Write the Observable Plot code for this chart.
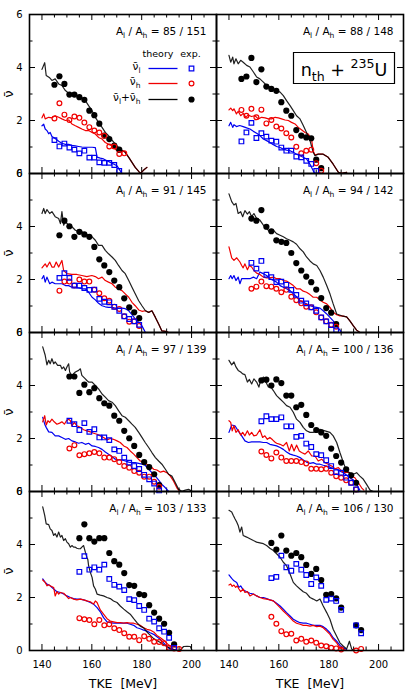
<!DOCTYPE html>
<html><head><meta charset="utf-8">
<script src="https://cdn.jsdelivr.net/npm/d3@7"></script>
<script src="https://cdn.jsdelivr.net/npm/@observablehq/plot@0.6"></script>
<style>
html,body{margin:0;padding:0;background:#fff;}
#chart{position:relative;width:415px;height:691px;overflow:hidden;}
#chart svg{position:absolute;}
</style></head><body><div id="chart"></div>
<script>
// ---------- tick values / labels ----------
const xMajor = [140,160,180,200];
const xMinor = [145,150,155,165,170,175,185,190,195,205];
const yMajor = [2,4];
const yMinor = [1,3,5];
const yLabels = [0,2,4,6];
const panelLabels = ["85 / 151","88 / 148","91 / 145","94 / 142","97 / 139","100 / 136","103 / 133","106 / 130"];
const legendHeader = ["theory","exp."];
const legendLabels = ["ν̄_{l}","ν̄_{h}","ν̄_{l}+ν̄_{h}"];
const reactionLabel = "n_{th} + ^{235}U";
const xTitle = "TKE  [MeV]";
const yTitle = "ν̄";

// ---------- panel 1 : 85/151 ----------
const p1_l = [[140.0,1.80],[140.7,1.86],[141.3,1.68],[142.0,1.62],[142.7,1.50],[143.3,1.55],[144.0,1.40],[145.3,1.32],[146.7,1.22],[148.0,1.14],[149.4,1.10],[150.7,1.10],[152.0,1.06],[153.4,1.04],[154.7,1.02],[156.0,1.00],[157.4,0.99],[158.7,0.99],[160.1,0.99],[161.4,0.98],[162.1,0.62],[163.4,0.58],[164.7,0.55],[166.1,0.48],[167.4,0.42],[168.7,0.36],[170.1,0.29],[171.4,0.10],[172.1,0.00]];
const p1_h = [[140.0,2.10],[140.7,2.25],[141.3,2.06],[142.7,2.12],[144.0,2.10],[145.3,2.18],[146.7,2.12],[148.0,2.06],[149.4,2.00],[150.7,2.02],[152.0,1.87],[153.4,1.80],[154.7,1.74],[156.0,1.68],[157.4,1.62],[158.7,1.62],[160.1,1.55],[161.4,1.49],[162.7,1.36],[164.1,1.30],[165.4,1.17],[166.7,1.10],[168.1,1.05],[169.4,0.92],[170.7,0.80],[172.1,0.86],[173.4,0.80],[174.8,0.61],[176.1,0.42],[177.4,0.23],[178.8,0.08],[179.4,0.00],[180.8,0.13],[182.1,0.23]];
const p1_t = [[140.0,3.93],[141.1,4.18],[141.7,3.70],[143.1,3.61],[144.0,3.51],[145.3,3.57],[146.7,3.38],[148.0,3.32],[149.4,3.13],[150.7,3.03],[152.0,2.94],[153.4,2.98],[154.7,2.88],[156.0,2.85],[157.4,2.75],[158.7,2.56],[160.1,2.37],[161.4,2.12],[162.7,1.93],[164.1,1.74],[165.4,1.55],[166.7,1.43],[168.1,1.26],[169.4,1.11],[170.7,0.98],[172.1,0.88],[173.4,0.80],[174.8,0.61],[176.1,0.42],[177.4,0.23],[178.8,0.08],[179.4,0.00],[180.8,0.13],[182.1,0.23]];
const p1_eL = [[145,1.26],[147,1.02],[149,1.13],[151,0.98],[153,0.90],[155,0.76],[157,0.86],[159,0.60],[161,0.60],[163,0.42],[165,0.40],[167,0.40],[169,0.32],[171,0.10]];
const p1_eH = [[145,2.08],[147,2.65],[149,2.22],[151,2.02],[153,2.15],[155,2.10],[157,1.92],[159,1.75],[161,1.62],[163,1.55],[165,1.42],[167,1.02],[169,1.02],[171,0.74],[173,0.76]];
const p1_eT = [[145,3.35],[147,3.67],[149,3.38],[151,2.98],[153,2.98],[155,2.88],[157,2.78],[159,2.37],[161,2.20],[163,1.88],[165,1.43],[167,1.30],[169,1.05],[171,0.90]];

// ---------- panel 2 : 88/148 ----------
const p2_l = [[140.0,1.80],[140.7,1.93],[141.5,1.74],[142.0,1.84],[143.0,1.77],[144.3,1.81],[145.7,1.77],[147.1,1.72],[148.4,1.68],[149.8,1.59],[151.1,1.52],[152.4,1.43],[153.8,1.30],[155.1,1.24],[156.4,1.17],[157.8,1.09],[159.1,1.02],[160.5,0.98],[161.8,0.92],[163.1,0.88],[164.5,0.86],[165.8,0.80],[167.1,0.73],[168.5,0.67],[169.8,0.61],[171.1,0.55],[172.5,0.35],[173.8,0.10],[174.5,0.00]];
const p2_h = [[140.0,2.40],[140.7,2.47],[141.5,2.37],[142.0,2.44],[143.0,2.25],[143.7,2.35],[144.7,2.18],[145.7,2.27],[146.8,2.12],[147.7,2.21],[149.0,2.15],[150.4,2.18],[151.8,2.06],[153.1,2.12],[154.5,2.10],[155.8,2.06],[157.1,2.06],[158.5,2.12],[159.8,2.10],[161.1,2.06],[162.5,2.02],[163.8,2.00],[165.1,1.93],[166.5,1.87],[167.8,1.74],[169.2,1.64],[170.5,1.55],[171.8,1.49],[173.1,1.30],[173.8,0.85],[174.5,0.70],[175.8,0.73],[177.8,0.73],[179.8,0.61],[181.8,0.35],[183.9,0.04],[185.2,0.01],[187.2,0.04]];
const p2_t = [[140.0,4.46],[140.7,4.20],[141.5,4.39],[142.0,4.14],[142.8,4.33],[143.7,4.14],[144.7,4.27],[145.7,4.20],[147.1,4.08],[148.4,4.02],[149.8,3.83],[151.1,3.64],[152.4,3.57],[153.8,3.45],[155.1,3.32],[156.4,3.26],[157.8,3.19],[159.1,3.13],[160.5,3.07],[161.8,2.94],[163.1,2.75],[164.5,2.56],[165.8,2.37],[167.1,2.18],[168.5,2.06],[169.8,1.81],[171.1,1.55],[172.5,1.24],[173.8,0.80],[174.5,0.67],[175.8,0.73],[177.8,0.73],[179.8,0.61],[181.8,0.35],[183.9,0.04],[185.2,0.01],[187.2,0.04]];
const p2_eL = [[145,1.21],[147,1.55],[149,1.91],[151,1.34],[153,1.52],[155,1.39],[157,1.24],[159,1.20],[161,0.98],[163,0.86],[165,0.86],[167,0.64],[169,0.61],[171,0.48],[173,0.36],[175,0.10]];
const p2_eH = [[145,2.40],[147,2.18],[149,2.44],[151,2.12],[153,2.41],[155,1.89],[157,2.02],[159,1.77],[161,1.70],[163,1.52],[165,1.36],[167,1.01],[169,0.76],[171,0.86],[173,0.90],[175,0.39],[177,0.10]];
const p2_eT = [[145,3.57],[147,3.66],[149,4.36],[151,3.45],[153,3.93],[155,3.28],[157,3.19],[159,3.12],[161,2.69],[163,2.37],[165,2.18],[167,1.64],[169,1.43],[171,1.36],[173,1.33],[175,0.52],[177,0.20]];

// ---------- panel 3 : 91/145 ----------
const p3_l = [[140.0,2.03],[140.7,2.15],[141.3,1.90],[142.0,2.09],[143.1,1.84],[144.0,1.90],[145.3,1.84],[146.7,1.84],[148.0,1.84],[149.4,1.77],[150.7,1.77],[152.0,1.71],[153.4,1.71],[154.7,1.68],[156.0,1.65],[157.4,1.65],[158.7,1.52],[160.1,1.33],[161.4,1.23],[162.7,1.10],[164.1,1.01],[165.4,0.97],[166.7,0.95],[168.1,0.95],[169.4,0.92],[170.7,0.92],[172.1,0.92],[173.4,0.90],[174.8,0.82],[176.1,0.67],[177.4,0.51],[178.8,0.38],[180.1,0.25],[181.5,0.00]];
const p3_h = [[140.0,2.44],[141.3,2.59],[142.0,2.47],[143.1,2.66],[144.0,2.47],[144.9,2.47],[145.7,2.66],[146.7,2.47],[148.0,2.72],[148.7,2.34],[150.0,2.22],[152.0,2.19],[154.0,2.19],[156.0,2.15],[158.0,2.11],[160.0,2.15],[161.4,2.11],[162.7,2.03],[164.1,2.09],[165.4,1.96],[166.7,1.90],[168.1,1.84],[169.4,1.71],[170.7,1.65],[172.1,1.58],[173.4,1.46],[174.8,1.33],[176.1,1.14],[177.4,1.01],[178.8,0.85],[180.1,0.80],[181.5,0.82],[182.8,0.76],[184.1,0.82],[185.5,0.57],[186.8,0.32],[188.1,0.06],[189.5,0.04],[190.8,0.00],[192.1,0.00]];
const p3_t = [[140.0,4.49],[140.7,4.68],[141.3,4.49],[142.0,4.64],[143.1,4.49],[144.0,4.56],[145.3,4.37],[146.7,4.30],[147.4,4.11],[148.0,4.56],[148.7,4.05],[149.4,4.18],[150.7,4.05],[152.0,3.99],[153.4,3.86],[154.7,3.80],[156.0,3.80],[157.4,3.73],[158.7,3.67],[160.1,3.61],[161.4,3.48],[162.7,3.29],[164.1,3.29],[165.4,3.10],[166.7,2.97],[168.1,2.85],[169.4,2.72],[170.7,2.53],[172.1,2.34],[173.4,2.22],[174.8,1.96],[176.1,1.71],[177.4,1.46],[178.8,1.20],[180.1,1.01],[181.5,0.82],[182.8,0.76],[184.1,0.82],[185.5,0.57],[186.8,0.32],[188.1,0.06],[189.5,0.04],[190.8,0.00],[192.1,0.00]];
const p3_eL = [[147,2.06],[149,2.24],[151,2.06],[153,1.77],[155,1.77],[157,1.68],[159,1.61],[161,1.62],[163,1.27],[165,1.16],[167,1.14],[169,0.97],[171,0.82],[173,0.61],[175,0.51],[177,0.42],[179,0.29]];
const p3_eH = [[147,1.58],[149,1.92],[151,1.92],[153,1.77],[155,2.00],[157,1.92],[159,1.92],[161,1.61],[163,1.48],[165,1.29],[167,1.20],[169,0.97],[171,0.89],[173,0.61],[175,0.41],[177,0.42],[179,0.25]];
const p3_eT = [[147,3.67],[149,4.22],[151,4.01],[153,3.61],[155,3.80],[157,3.70],[159,3.61],[161,3.23],[163,2.76],[165,2.53],[167,2.28],[169,1.96],[171,1.71],[173,1.29],[175,0.95],[177,0.76],[179,0.54]];

// ---------- panel 4 : 94/142 ----------
const p4_l = [[140.0,2.03],[140.7,2.15],[141.3,2.03],[142.0,2.15],[142.8,1.96],[143.7,2.09],[144.4,1.84],[145.1,2.03],[146.4,2.03],[148.4,2.03],[149.8,2.09],[151.1,2.03],[152.4,2.28],[153.8,2.22],[155.1,2.15],[156.4,2.03],[157.8,1.96],[159.1,1.90],[160.5,1.77],[161.8,1.71],[163.1,1.65],[164.5,1.58],[165.8,1.46],[167.1,1.35],[168.5,1.20],[169.8,1.14],[171.1,1.08],[172.5,1.01],[173.8,0.97],[175.2,0.95],[176.5,0.92],[177.8,0.82],[179.2,0.70],[180.5,0.57],[181.8,0.44],[183.2,0.25],[184.5,0.09],[185.2,0.00]];
const p4_h = [[140.0,3.23],[141.1,2.82],[142.0,2.72],[143.1,2.82],[144.4,2.66],[145.1,2.53],[145.7,2.44],[146.4,2.59],[147.4,2.37],[148.2,2.53],[149.1,2.47],[150.0,2.34],[151.1,2.24],[152.4,2.19],[153.8,2.09],[155.1,2.06],[156.4,2.06],[157.8,2.09],[159.1,2.03],[160.5,2.03],[161.8,1.96],[163.1,1.94],[164.5,1.86],[165.8,1.77],[167.1,1.65],[168.5,1.65],[169.8,1.56],[171.1,1.52],[172.5,1.43],[173.8,1.33],[175.2,1.33],[176.5,1.23],[177.8,1.14],[179.2,1.08],[180.5,0.95],[181.8,0.76],[183.2,0.67],[184.5,0.63],[185.2,0.63],[187.2,0.59],[188.5,0.44],[189.9,0.25],[191.2,0.09],[192.5,0.00]];
const p4_t = [[140.0,5.23],[141.1,4.94],[142.0,4.81],[142.8,4.87],[143.7,4.49],[144.7,4.56],[145.5,4.37],[146.4,4.60],[147.4,4.47],[148.2,4.56],[149.1,4.37],[150.0,4.49],[151.1,4.30],[152.4,4.24],[153.8,4.05],[155.1,3.92],[156.4,3.80],[157.8,3.86],[159.1,3.73],[160.5,3.67],[161.8,3.61],[163.1,3.54],[164.5,3.48],[165.8,3.42],[167.1,3.33],[168.5,3.16],[169.8,3.04],[171.1,2.85],[172.5,2.70],[173.8,2.59],[175.2,2.53],[176.5,2.34],[177.8,2.09],[179.2,1.77],[180.5,1.46],[181.8,1.08],[183.2,0.70],[185.2,0.63],[187.2,0.59],[188.5,0.44],[189.9,0.25],[191.2,0.09],[192.5,0.00]];
const p4_eL = [[149,2.63],[151,2.41],[153,2.70],[155,2.18],[157,2.09],[159,1.90],[161,1.92],[163,1.80],[165,1.61],[167,1.42],[169,1.20],[171,1.10],[173,0.95],[175,0.82],[177,0.57],[179,0.42],[181,0.28],[183,0.09]];
const p4_eH = [[149,1.65],[151,1.73],[153,1.92],[155,1.75],[157,1.73],[159,1.65],[161,1.52],[163,1.61],[165,1.35],[167,1.22],[169,1.10],[171,0.97],[173,0.95],[175,0.76],[177,0.57],[179,0.42],[181,0.29],[183,0.22]];
const p4_eT = [[149,4.30],[151,4.22],[153,4.62],[155,3.99],[157,3.82],[159,3.48],[161,3.42],[163,3.38],[165,3.00],[167,2.62],[169,2.34],[171,2.11],[173,1.90],[175,1.62],[177,1.30],[179,0.92],[181,0.75],[183,0.32]];

// ---------- panel 5 : 97/139 ----------
const p5_l = [[140.3,2.80],[141.1,2.54],[141.7,2.42],[142.7,2.25],[144.0,2.23],[145.3,2.10],[146.7,2.10],[148.0,2.04],[149.4,1.97],[150.7,2.00],[152.0,1.91],[153.4,1.87],[154.7,1.82],[156.0,1.85],[157.4,1.78],[158.7,1.82],[160.1,1.72],[161.4,1.70],[162.7,1.66],[164.1,1.59],[165.4,1.49],[166.7,1.41],[168.1,1.32],[169.4,1.22],[170.7,1.19],[172.1,1.19],[173.4,1.15],[174.8,1.11],[176.1,1.09],[177.4,1.09],[178.8,1.06],[180.1,1.03],[181.4,0.99],[182.8,0.84],[184.1,0.71],[185.5,0.58],[186.8,0.43],[188.1,0.27],[189.5,0.14],[190.8,0.00]];
const p5_h = [[140.3,2.63],[141.1,2.86],[141.7,2.51],[142.4,2.67],[143.1,2.61],[144.0,2.73],[144.9,2.63],[146.0,2.54],[147.1,2.58],[148.0,2.63],[149.0,2.54],[149.8,2.67],[150.7,2.73],[151.4,2.67],[152.0,2.48],[153.0,2.61],[154.0,2.48],[155.4,2.42],[156.7,2.33],[158.0,2.29],[159.4,2.25],[160.7,2.20],[162.1,2.16],[163.4,2.10],[164.7,2.04],[166.1,1.95],[167.4,2.00],[168.7,1.97],[170.1,1.91],[171.4,1.85],[172.8,1.72],[174.1,1.66],[175.4,1.53],[176.8,1.41],[178.1,1.28],[179.4,1.15],[180.8,1.11],[182.1,1.03],[183.4,0.96],[184.8,0.84],[186.1,0.81],[187.5,0.73],[188.8,0.77],[190.1,0.71],[191.5,0.58],[192.8,0.39],[194.1,0.14],[194.8,0.05]];
const p5_t = [[140.3,5.46],[141.3,5.14],[142.0,4.78],[142.7,4.95],[143.3,4.82],[144.0,5.01],[144.7,4.82],[145.3,4.89],[146.3,4.76],[147.4,4.76],[148.0,4.63],[148.7,4.70],[149.4,4.57],[150.0,4.70],[150.7,4.82],[151.1,4.51],[152.0,4.38],[153.4,4.51],[154.7,4.57],[155.4,4.63],[156.0,4.38],[157.4,4.25],[158.0,4.19],[158.7,4.13],[160.1,4.13],[161.4,4.00],[162.7,3.87],[164.1,3.68],[165.4,3.56],[166.7,3.43],[168.1,3.37],[169.4,3.24],[170.7,3.05],[172.1,2.86],[173.4,2.80],[174.8,2.67],[176.1,2.54],[177.4,2.42],[178.8,2.23],[180.1,2.04],[181.4,1.85],[182.8,1.66],[184.1,1.47],[185.5,1.28],[186.8,1.15],[188.1,1.03],[189.5,0.84],[190.8,0.65],[192.1,0.58],[193.5,0.33],[194.8,0.08],[196.1,0.01],[197.5,0.05],[198.8,0.08],[200.2,0.01]];
const p5_eL = [[151,2.67],[153,2.54],[155,2.32],[157,2.58],[159,2.25],[161,2.35],[163,2.04],[165,2.04],[167,1.94],[169,1.59],[171,1.53],[173,1.28],[175,1.09],[177,0.96],[179,0.85],[181,0.63],[183,0.46],[185,0.30],[187,0.04]];
const p5_eH = [[151,1.62],[153,1.75],[155,1.37],[157,1.41],[159,1.44],[161,1.49],[163,1.44],[165,1.28],[167,1.28],[169,1.22],[171,1.11],[173,0.96],[175,0.90],[177,0.77],[179,0.71],[181,0.56],[183,0.56],[185,0.37],[187,0.18]];
const p5_eT = [[151,4.34],[153,4.34],[155,3.72],[157,4.03],[159,3.75],[161,3.90],[163,3.52],[165,3.33],[167,3.24],[169,2.86],[171,2.67],[173,2.29],[175,2.01],[177,1.72],[179,1.38],[181,1.11],[183,0.92],[185,0.65],[187,0.24]];

// ---------- panel 6 : 100/136 ----------
const p6_l = [[140.0,2.23],[141.1,2.51],[142.4,2.48],[143.7,2.29],[145.1,2.10],[146.4,1.91],[147.8,1.85],[149.1,1.87],[151.1,1.87],[152.4,1.87],[153.8,1.85],[155.1,1.85],[156.4,1.78],[157.8,1.75],[159.1,1.72],[160.5,1.66],[161.8,1.59],[163.1,1.49],[164.5,1.41],[165.8,1.37],[167.1,1.34],[168.5,1.28],[169.8,1.19],[171.1,1.11],[172.5,1.06],[173.8,1.09],[175.2,1.03],[176.5,1.03],[177.8,0.99],[179.2,0.96],[180.5,0.92],[181.8,0.86],[183.2,0.84],[184.5,0.77],[185.9,0.71],[187.2,0.61],[188.5,0.52],[189.9,0.43],[191.2,0.27],[192.5,0.05]];
const p6_h = [[140.0,2.67],[140.7,2.61],[141.3,2.29],[142.0,2.48],[142.8,2.23],[143.7,2.33],[144.7,2.13],[145.5,2.23],[146.4,2.10],[147.4,2.29],[148.2,2.13],[149.1,2.23],[150.0,2.10],[151.1,2.13],[152.4,2.33],[153.5,2.04],[154.4,2.10],[155.4,1.97],[156.4,2.04],[157.5,1.95],[158.4,1.87],[159.1,1.82],[160.5,1.78],[161.8,1.72],[163.1,1.85],[164.2,1.53],[165.1,1.78],[166.1,1.53],[167.1,1.75],[168.2,1.53],[169.1,1.47],[170.5,1.41],[171.8,1.53],[173.2,1.34],[174.5,1.34],[175.8,1.15],[177.2,1.22],[178.5,1.09],[179.8,1.03],[181.2,0.96],[182.5,0.86],[183.9,0.90],[185.2,0.77],[186.5,0.71],[187.9,0.73],[189.2,0.58],[190.5,0.52],[191.9,0.33],[193.2,0.14],[194.1,0.05]];
const p6_t = [[140.0,4.95],[141.1,4.78],[142.0,4.89],[142.8,4.70],[143.7,4.57],[144.7,4.51],[145.5,4.44],[146.4,4.41],[147.4,4.13],[148.2,4.23],[149.1,4.06],[150.0,4.25],[151.1,4.13],[152.0,3.94],[152.7,4.19],[153.8,4.32],[154.8,4.13],[155.8,3.94],[156.4,4.00],[157.8,3.81],[159.1,3.62],[160.5,3.49],[161.8,3.37],[163.1,3.24],[164.5,3.18],[165.8,2.99],[167.1,2.73],[168.5,2.61],[169.8,2.42],[171.1,2.29],[172.5,2.23],[173.8,2.23],[175.2,2.29],[176.5,2.35],[178.5,2.29],[180.5,2.23],[181.8,2.10],[183.2,1.85],[184.5,1.47],[185.9,1.09],[187.2,0.77],[188.5,0.71],[189.9,0.65],[191.2,0.71],[192.5,0.58],[193.9,0.46],[195.2,0.27],[196.6,0.05],[197.9,0.00]];
const p6_eL = [[153,2.65],[155,2.84],[157,2.73],[159,2.73],[161,2.80],[163,2.46],[165,2.46],[167,2.06],[169,2.10],[171,1.81],[173,1.68],[175,1.41],[177,1.37],[179,1.18],[181,0.96],[183,0.73],[185,0.71],[187,0.52],[189,0.33],[191,0.08]];
const p6_eH = [[153,1.51],[155,1.38],[157,1.25],[159,1.47],[161,1.28],[163,1.15],[165,1.15],[167,1.15],[169,1.11],[171,1.06],[173,0.86],[175,0.86],[177,0.84],[179,0.86],[181,0.71],[183,0.58],[185,0.52],[187,0.42],[189,0.33],[191,0.08]];
const p6_eT = [[153,4.19],[155,4.22],[157,4.00],[159,4.23],[161,4.09],[163,3.62],[165,3.62],[167,3.18],[169,3.27],[171,2.89],[173,2.51],[175,2.32],[177,2.23],[179,2.10],[181,1.62],[183,1.34],[185,1.09],[187,0.84],[189,0.61],[191,0.33]];

// ---------- panel 7 : 103/133 ----------
const p7_l = [[140.3,2.70],[141.3,2.57],[142.0,2.51],[143.3,2.44],[144.7,2.32],[146.0,2.22],[147.4,2.19],[148.7,2.13],[150.0,2.06],[151.4,2.00],[152.7,1.96],[154.0,1.94],[155.4,1.94],[156.7,1.91],[158.0,1.87],[159.4,1.81],[160.7,1.75],[162.1,1.62],[163.4,1.46],[164.7,1.24],[166.1,1.08],[167.4,1.05],[168.7,1.03],[170.1,1.03],[171.4,1.03],[172.8,1.03],[174.1,1.03],[175.4,0.99],[176.8,0.95],[178.1,0.86],[179.4,0.82],[180.8,0.77],[182.1,0.73],[183.4,0.67],[184.8,0.61],[186.1,0.52],[187.5,0.42],[188.8,0.29],[190.1,0.16],[191.5,0.04]];
const p7_h = [[140.3,2.66],[141.3,2.57],[142.0,2.44],[142.7,2.48],[143.3,2.44],[144.7,2.38],[145.3,2.06],[146.0,2.22],[146.7,2.13],[147.4,2.19],[148.7,2.16],[150.0,2.03],[150.7,1.96],[151.4,2.00],[152.7,1.94],[154.0,1.91],[155.4,1.94],[156.7,1.91],[158.0,1.87],[159.4,1.84],[160.7,1.75],[161.4,1.87],[162.1,1.81],[162.7,1.68],[163.4,1.53],[164.7,1.37],[166.1,1.20],[167.4,1.11],[168.7,1.08],[170.1,1.05],[171.4,1.05],[172.8,1.03],[174.1,1.05],[175.4,1.03],[176.8,1.03],[178.1,0.99],[179.4,0.95],[180.8,0.86],[182.1,0.80],[183.4,0.77],[184.8,0.70],[186.1,0.57],[187.5,0.48],[188.8,0.39],[190.1,0.27],[191.5,0.14],[192.8,0.04],[194.1,0.00]];
const p7_t = [[140.3,5.42],[141.1,5.10],[141.7,4.78],[142.7,4.75],[143.3,4.59],[144.0,4.53],[144.7,4.34],[145.3,4.41],[146.0,4.28],[146.7,4.47],[147.4,4.28],[148.0,4.34],[148.7,4.15],[149.4,4.22],[150.0,4.09],[150.7,4.03],[151.4,3.90],[152.0,3.96],[152.7,3.90],[153.4,3.90],[154.0,3.86],[154.7,3.84],[155.4,3.84],[156.0,3.90],[156.7,3.96],[157.4,3.71],[158.0,3.52],[158.4,3.43],[158.7,3.20],[159.4,2.95],[160.1,2.76],[160.7,2.44],[161.4,2.32],[162.1,2.13],[163.4,2.09],[164.7,2.06],[166.1,2.00],[167.4,1.96],[168.7,1.87],[170.1,1.81],[171.4,1.68],[172.8,1.56],[174.1,1.46],[175.4,1.37],[176.8,1.20],[178.1,1.05],[179.4,0.92],[180.8,0.85],[182.1,0.70],[183.4,0.58],[184.8,0.45],[186.1,0.38],[187.5,0.30],[188.8,0.22],[190.1,0.15],[191.5,0.08],[192.8,0.03],[194.1,0.00],[195.5,0.02],[196.8,0.15],[198.2,0.16],[199.5,0.15],[200.2,0.00]];
const p7_eL = [[155,2.97],[157,3.56],[159,3.05],[161,3.14],[163,3.05],[165,3.24],[167,2.70],[169,2.48],[171,2.41],[173,2.28],[175,1.94],[177,1.90],[179,1.68],[181,1.53],[183,1.20],[185,1.09],[187,0.84],[189,0.71],[191,0.48],[193,0.10]];
const p7_eH = [[155,1.22],[157,1.18],[159,1.15],[161,0.99],[163,1.15],[165,0.95],[167,0.99],[169,0.84],[171,0.77],[173,0.65],[175,0.52],[177,0.52],[179,0.39],[181,0.54],[183,0.44],[185,0.33],[187,0.32],[189,0.27],[191,0.10],[193,0.08],[195,0.06]];
const p7_eT = [[155,4.24],[157,4.76],[159,4.24],[161,4.11],[163,4.24],[165,4.24],[167,3.68],[169,3.37],[171,3.24],[173,2.92],[175,2.47],[177,2.44],[179,2.13],[181,2.09],[183,1.71],[185,1.43],[187,1.20],[189,1.01],[191,0.67],[193,0.23]];

// ---------- panel 8 : 106/130 ----------
const p8_l = [[140.0,2.85],[141.1,2.72],[142.0,2.63],[143.1,2.57],[144.0,2.38],[144.7,2.44],[145.7,2.29],[147.1,2.22],[148.4,2.16],[149.8,2.13],[151.1,2.06],[152.4,2.00],[153.8,2.00],[155.1,1.96],[156.4,1.91],[157.8,1.87],[159.1,1.78],[160.5,1.68],[161.8,1.56],[163.1,1.43],[164.5,1.30],[165.8,1.18],[167.1,1.11],[168.5,1.05],[169.8,1.03],[171.1,1.03],[172.5,0.99],[173.8,0.95],[175.2,0.95],[176.5,0.95],[177.8,0.90],[179.2,0.80],[180.5,0.67],[181.8,0.48],[183.2,0.35],[184.5,0.19],[185.9,0.10],[187.2,0.04]];
const p8_h = [[140.0,2.47],[140.7,2.51],[141.3,2.42],[142.0,2.47],[142.7,2.38],[143.3,2.44],[144.0,2.32],[144.7,2.22],[145.7,2.32],[146.4,2.19],[147.4,2.22],[148.4,2.06],[149.8,2.13],[151.1,2.06],[152.4,2.00],[153.8,1.96],[155.1,1.94],[156.4,1.91],[157.8,1.87],[159.1,1.75],[160.5,1.62],[161.8,1.49],[163.1,1.37],[164.5,1.24],[165.8,1.11],[167.1,1.03],[168.5,0.99],[169.8,0.95],[171.1,0.95],[172.5,0.92],[173.8,0.95],[175.2,0.90],[176.5,0.92],[177.8,0.86],[179.2,0.73],[180.5,0.61],[181.8,0.42],[183.2,0.29],[184.5,0.10],[185.9,0.04],[187.2,0.00]];
const p8_t = [[140.0,5.29],[141.1,5.23],[141.7,5.10],[142.4,4.97],[143.1,4.85],[143.7,4.72],[144.4,4.47],[145.1,4.66],[145.7,4.34],[147.1,4.28],[148.4,4.22],[149.8,4.15],[151.1,4.09],[152.4,4.06],[153.8,4.03],[155.1,3.96],[156.4,3.86],[157.8,3.77],[159.1,3.65],[160.5,3.52],[161.8,3.33],[163.1,3.20],[164.5,2.89],[165.8,2.57],[167.1,2.44],[168.5,2.32],[169.8,2.22],[171.1,2.16],[172.5,2.00],[173.8,1.94],[175.2,1.87],[176.5,1.94],[177.8,1.68],[179.2,1.43],[180.5,1.18],[181.8,0.80],[183.2,0.54],[184.5,0.29],[185.9,0.16],[187.2,0.06],[188.3,0.35],[189.2,0.06],[190.1,0.00]];
const p8_eL = [[157,2.73],[159,2.78],[161,3.58],[163,3.14],[165,3.01],[167,3.27],[169,3.05],[171,2.85],[173,2.51],[175,2.76],[177,2.44],[179,1.91],[181,1.96],[183,1.87],[185,1.53],[191,0.95],[193,0.65]];
const p8_eH = [[157,1.27],[159,1.01],[161,0.73],[163,0.61],[165,0.63],[167,0.38],[169,0.44],[171,0.33],[173,0.38],[175,0.29],[177,0.19],[179,0.16],[181,0.10],[183,0.08],[185,0.04],[191,0.00],[193,0.06]];
const p8_eT = [[157,4.06],[159,3.81],[161,4.34],[163,3.77],[165,3.58],[167,3.68],[169,3.52],[171,3.23],[173,2.89],[175,3.08],[177,2.66],[179,2.10],[181,2.13],[183,1.97],[185,1.62],[191,0.95],[193,0.77]];

const panels = [
  {l:p1_l,h:p1_h,t:p1_t,eL:p1_eL,eH:p1_eH,eT:p1_eT},
  {l:p2_l,h:p2_h,t:p2_t,eL:p2_eL,eH:p2_eH,eT:p2_eT},
  {l:p3_l,h:p3_h,t:p3_t,eL:p3_eL,eH:p3_eH,eT:p3_eT},
  {l:p4_l,h:p4_h,t:p4_t,eL:p4_eL,eH:p4_eH,eT:p4_eT},
  {l:p5_l,h:p5_h,t:p5_t,eL:p5_eL,eH:p5_eH,eT:p5_eT},
  {l:p6_l,h:p6_h,t:p6_t,eL:p6_eL,eH:p6_eH,eT:p6_eT},
  {l:p7_l,h:p7_h,t:p7_t,eL:p7_eL,eH:p7_eH,eT:p7_eT},
  {l:p8_l,h:p8_h,t:p8_t,eL:p8_eL,eH:p8_eH,eT:p8_eT}
];

// ---------- styling ----------
const BLUE = "#0000f0", RED = "#f00000", BLACK = "#000";
const W = 187, H = 159;
const M = {l: 29, r: 12, t: 14, b: 41};
const colX = [29, 216];
const rowY0 = 14;
const X = d => d[0], Y = d => d[1];
const hline = {draw(ctx) { ctx.moveTo(-14.5, 0); ctx.lineTo(14.5, 0); }};
const boxSym = {draw(ctx) { ctx.rect(-50.5, -15.5, 101, 31); }};

function richText(svg) {
  const ns = "http://www.w3.org/2000/svg";
  svg.querySelectorAll("text").forEach(t => {
    const s = t.textContent;
    if (!/[_^]\{/.test(s)) return;
    const fs = parseFloat(getComputedStyle(t).fontSize) || 10;
    while (t.firstChild) t.removeChild(t.firstChild);
    const parts = [];
    const re = /([_^])\{([^}]*)\}/g;
    let last = 0, m;
    while ((m = re.exec(s))) {
      if (m.index > last) parts.push({s: s.slice(last, m.index), k: 0});
      parts.push({s: m[2], k: m[1] === "_" ? 1 : -1});
      last = re.lastIndex;
    }
    if (last < s.length) parts.push({s: s.slice(last), k: 0});
    let cur = 0;
    for (const p of parts) {
      const want = p.k === 1 ? 0.28 * fs : p.k === -1 ? -0.42 * fs : 0;
      const e = document.createElementNS(ns, "tspan");
      if (want !== cur) e.setAttribute("dy", (want - cur).toFixed(2));
      if (p.k !== 0) e.setAttribute("font-size", (0.72 * fs).toFixed(2));
      e.textContent = p.s;
      t.appendChild(e);
      cur = want;
    }
  });
}

const root = document.getElementById("chart");
panels.forEach((p, i) => {
  const col = i % 2, row = Math.floor(i / 2);
  const marks = [
    Plot.tickX(xMajor, {x: d => d, insetTop: H - 6, stroke: BLACK}),
    Plot.tickX(xMajor, {x: d => d, insetBottom: H - 6, stroke: BLACK}),
    Plot.tickX(xMinor, {x: d => d, insetTop: H - 3.5, stroke: BLACK}),
    Plot.tickX(xMinor, {x: d => d, insetBottom: H - 3.5, stroke: BLACK}),
    Plot.tickY(yMajor, {y: d => d, insetRight: W - 6, stroke: BLACK}),
    Plot.tickY(yMajor, {y: d => d, insetLeft: W - 6, stroke: BLACK}),
    Plot.tickY(yMinor, {y: d => d, insetRight: W - 3.5, stroke: BLACK}),
    Plot.tickY(yMinor, {y: d => d, insetLeft: W - 3.5, stroke: BLACK}),
    Plot.line(p.l, {x: X, y: Y, stroke: BLUE, strokeWidth: 1.2}),
    Plot.line(p.h, {x: X, y: Y, stroke: RED, strokeWidth: 1.2}),
    Plot.line(p.t, {x: X, y: Y, stroke: BLACK, strokeWidth: 1.2, strokeOpacity: 0.88}),
    Plot.dot(p.eT, {x: X, y: Y, r: 3.1, fill: BLACK, stroke: "none"}),
    Plot.dot(p.eH, {x: X, y: Y, r: 2.4, stroke: RED, fill: "none", strokeWidth: 1.2}),
    Plot.dot(p.eL, {x: X, y: Y, symbol: "square", r: 2.6, stroke: BLUE, fill: "none", strokeWidth: 1.2}),
    Plot.text(["A_{l} / A_{h} = " + panelLabels[i]], {frameAnchor: "top-right", dx: -10, dy: 17, textAnchor: "end", lineAnchor: "middle", fontSize: 10.5}),
    Plot.frame({stroke: BLACK, strokeWidth: 1.6})
  ];
  if (col === 0) {
    marks.push(Plot.axisY({ticks: yLabels, tickFormat: d => String(d), tickSize: 0, tickPadding: 7, label: null, fontSize: 10}));
    marks.push(Plot.text([yTitle], {frameAnchor: "left", dx: -21, rotate: -90, fontSize: 13, textAnchor: "middle", lineAnchor: "middle"}));
  }
  if (row === 3) {
    marks.push(Plot.axisX({ticks: xMajor, tickFormat: d => String(d), tickSize: 0, tickPadding: 10, label: null, fontSize: 10}));
    marks.push(Plot.text([xTitle], {frameAnchor: "bottom", dy: 33, fontSize: 12.5, textAnchor: "middle", lineAnchor: "middle"}));
  }
  if (i === 0) {
    marks.push(Plot.text([legendHeader[0]], {frameAnchor: "top-left", dx: 128.5, dy: 39, fontSize: 9.5, textAnchor: "middle", lineAnchor: "middle"}));
    marks.push(Plot.text([legendHeader[1]], {frameAnchor: "top-left", dx: 161, dy: 39, fontSize: 9.5, textAnchor: "middle", lineAnchor: "middle"}));
    const rows = [54, 69, 85];
    const cols = [BLUE, RED, BLACK];
    rows.forEach((dy, k) => {
      marks.push(Plot.text([legendLabels[k]], {frameAnchor: "top-left", dx: 111, dy: dy - 1.5, fontSize: 10.5, textAnchor: "end", lineAnchor: "middle"}));
      marks.push(Plot.dot([0], {frameAnchor: "top-left", dx: 133.5, dy, symbol: hline, stroke: cols[k], fill: "none", strokeWidth: 1.3}));
    });
    marks.push(Plot.dot([0], {frameAnchor: "top-left", dx: 162, dy: rows[0], symbol: "square", r: 2.6, stroke: BLUE, fill: "none", strokeWidth: 1.2}));
    marks.push(Plot.dot([0], {frameAnchor: "top-left", dx: 162, dy: rows[1], r: 2.4, stroke: RED, fill: "none", strokeWidth: 1.2}));
    marks.push(Plot.dot([0], {frameAnchor: "top-left", dx: 162, dy: rows[2], r: 3.1, fill: BLACK, stroke: "none"}));
  }
  if (i === 1) {
    marks.push(Plot.dot([0], {frameAnchor: "top-right", dx: -59.5, dy: 53.5, symbol: boxSym, stroke: BLACK, fill: "none", strokeWidth: 1.2}));
    marks.push(Plot.text([reactionLabel], {frameAnchor: "top-right", dx: -59.5, dy: 55.5, fontSize: 17.5, textAnchor: "middle", lineAnchor: "middle"}));
  }
  const svg = Plot.plot({
    width: W + M.l + M.r, height: H + M.t + M.b,
    marginLeft: M.l, marginRight: M.r, marginTop: M.t, marginBottom: M.b,
    x: {domain: [135, 210], axis: null},
    y: {domain: [0, 6], axis: null},
    style: {background: "transparent", overflow: "visible", fontFamily: "DejaVu Sans", fontSize: "10px", color: "black"},
    marks
  });
  svg.style.left = (colX[col] - M.l) + "px";
  svg.style.top = (rowY0 + row * H - M.t) + "px";
  root.appendChild(svg);
  richText(svg);
});
</script></body></html>
